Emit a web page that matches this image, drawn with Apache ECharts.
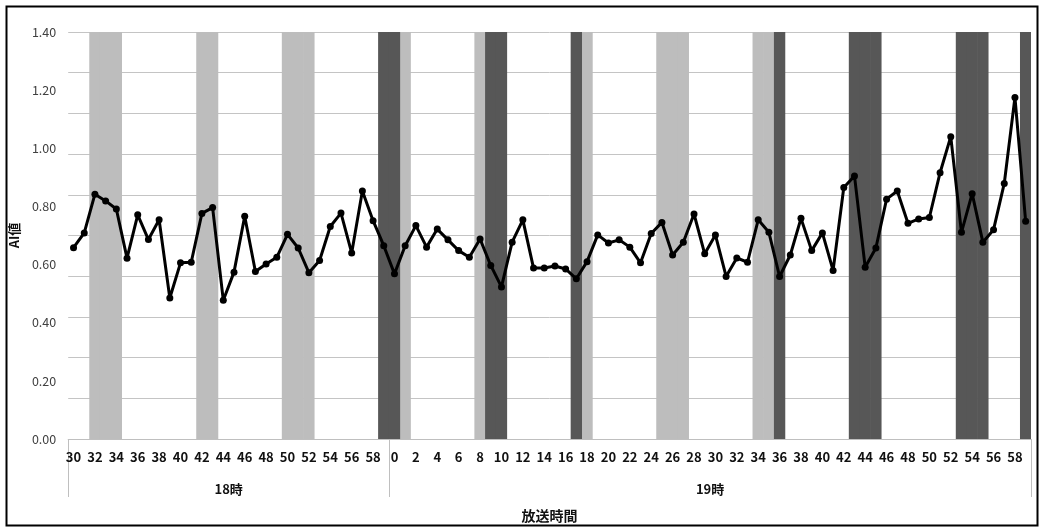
<!DOCTYPE html>
<html><head><meta charset="utf-8">
<script src="https://cdn.jsdelivr.net/npm/echarts@6/dist/echarts.min.js"></script>
<style>html,body{margin:0;padding:0;background:#fff}#c{width:1040px;height:528px}</style>
</head><body><div id="c"></div>
<script>
// categories: minute labels of each hour
const hours = ['18時', '19時'];
const minutes18 = [30,31,32,33,34,35,36,37,38,39,40,41,42,43,44,45,46,47,48,49,50,51,52,53,54,55,56,57,58,59];
const minutes19 = [0,1,2,3,4,5,6,7,8,9,10,11,12,13,14,15,16,17,18,19,20,21,22,23,24,25,26,27,28,29,
                   30,31,32,33,34,35,36,37,38,39,40,41,42,43,44,45,46,47,48,49,50,51,52,53,54,55,56,57,58,59];
// AI値 per minute (18:30 - 19:59)
const aiValues = [
  0.658,0.709,0.842,0.819,0.791,0.622,0.771,0.686,0.754,0.485,
  0.606,0.608,0.776,0.796,0.477,0.574,0.766,0.576,0.602,0.625,
  0.704,0.657,0.572,0.614,0.731,0.777,0.640,0.853,0.751,0.665,
  0.568,0.665,0.734,0.660,0.722,0.685,0.648,0.625,0.688,0.597,
  0.523,0.677,0.754,0.588,0.588,0.595,0.585,0.551,0.610,0.702,
  0.674,0.685,0.660,0.606,0.707,0.745,0.633,0.677,0.774,0.637,
  0.702,0.559,0.623,0.608,0.754,0.711,0.559,0.633,0.759,0.648,
  0.709,0.580,0.865,0.905,0.591,0.657,0.825,0.853,0.742,0.757,
  0.762,0.916,1.040,0.711,0.844,0.677,0.720,0.879,1.175,0.749
];
// shaded minutes
const lightBandTimes = ['18:32','18:33','18:34','18:42','18:43','18:50','18:51','18:52',
  '19:01','19:08','19:18','19:25','19:26','19:27','19:34','19:35'];
const darkBandTimes = ['18:59','19:00','19:09','19:10','19:17','19:36',
  '19:43','19:44','19:45','19:53','19:54','19:55','19:59'];
const bandTop = 1.4;
const yTickLabels = ['0.00','0.20','0.40','0.60','0.80','1.00','1.20','1.40'];

const cats = [];
minutes18.forEach(m => cats.push('18:' + String(m).padStart(2,'0')));
minutes19.forEach(m => cats.push('19:' + String(m).padStart(2,'0')));
const lightData = cats.map(c => lightBandTimes.includes(c) ? bandTop : '-');
const darkData = cats.map(c => darkBandTimes.includes(c) ? bandTop : '-');
const n18 = minutes18.length, nAll = cats.length;

const FONT = "'Noto Sans CJK JP', 'Noto Sans', sans-serif";
const LIGHT = '#bdbdbd', DARK = '#575757';
const chart = echarts.init(document.getElementById('c'), null, {renderer: 'canvas'});
chart.setOption({
  animation: false,
  backgroundColor: '#fff',
  textStyle: {fontFamily: FONT},
  grid: {left: 66, right: 9, top: 32, bottom: 87, containLabel: false},
  graphic: [{type: 'rect', left: 4, top: 4, shape: {width: 1031, height: 519},
    style: {fill: 'none', stroke: '#000', lineWidth: 2}, silent: true}],
  xAxis: [{
    type: 'category', data: cats, boundaryGap: true,
    axisLine: {show: true, lineStyle: {color: '#bfbfbf', width: 1}},
    axisTick: {show: false},
    axisLabel: {interval: 1, margin: 12, fontSize: 13, fontWeight: 'bold', color: '#111', fontFamily: FONT,
      formatter: v => String(parseInt(v.split(':')[1], 10))},
    name: '放送時間', nameLocation: 'middle', nameGap: 70,
    nameTextStyle: {fontSize: 14, fontWeight: 'bold', color: '#111', fontFamily: FONT}
  }, {
    type: 'value', min: 0, max: nAll, position: 'bottom',
    axisLine: {show: false}, splitLine: {show: false},
    axisTick: {show: true, inside: false, length: 58, customValues: [0, n18, nAll],
      lineStyle: {color: '#bfbfbf', width: 1}},
    axisLabel: {show: true, margin: 44, fontSize: 13, fontWeight: 'bold', color: '#111', fontFamily: FONT,
      customValues: [n18 / 2, n18 + (nAll - n18) / 2],
      formatter: v => (v < n18 ? hours[0] : hours[1])}
  }],
  yAxis: [{
    type: 'value', min: 0, max: 1.4, interval: 0.2,
    axisLine: {show: false}, axisTick: {show: false}, splitLine: {show: false},
    axisLabel: {margin: 12, fontSize: 12.5, color: '#404040', fontFamily: FONT,
      formatter: v => yTickLabels[Math.round(v / 0.2)]},
    name: 'AI値', nameLocation: 'middle', nameGap: 42,
    nameTextStyle: {fontSize: 13, fontWeight: 'bold', color: '#111', fontFamily: FONT}
  }, {
    type: 'value', min: 0, max: 1.4, interval: 0.14, position: 'left',
    axisLine: {show: false}, axisTick: {show: false}, axisLabel: {show: false},
    splitLine: {show: true, lineStyle: {color: '#c4c4c4', width: 1}}
  }],
  series: [{
    type: 'bar', data: lightData, stack: 'band', barWidth: '106%',
    itemStyle: {color: LIGHT}, z: 1, silent: true
  }, {
    type: 'bar', data: darkData, stack: 'band', barWidth: '106%',
    itemStyle: {color: DARK}, z: 1, silent: true
  }, {
    type: 'line', data: aiValues, symbol: 'circle', symbolSize: 7,
    lineStyle: {color: '#000', width: 3}, itemStyle: {color: '#000'}, z: 5
  }]
});
</script></body></html>
